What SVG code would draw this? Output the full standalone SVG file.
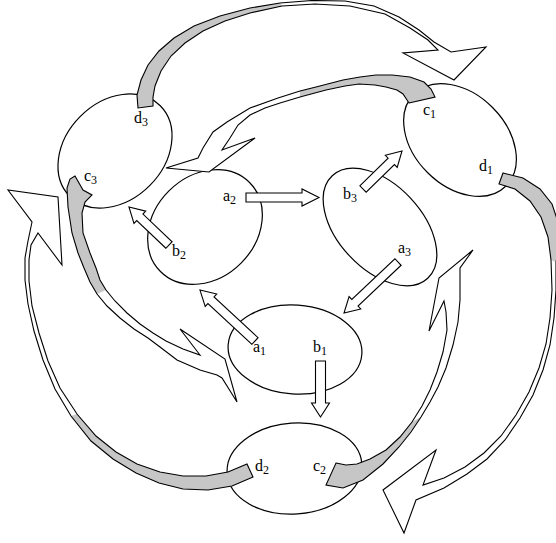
<svg xmlns="http://www.w3.org/2000/svg" xmlns:xlink="http://www.w3.org/1999/xlink" width="556" height="543" viewBox="0 0 556 543">
<style>
.n{fill:none;stroke:#000;stroke-width:1.2}
.w{fill:#fff;stroke:none}
.s{fill:none;stroke:#000;stroke-width:1.1;stroke-linejoin:miter}
.g{fill:#c6c6c6;stroke:none}
.b{fill:#fff;stroke:#000;stroke-width:1.1}
text{font-family:"Liberation Serif","Times New Roman",serif;font-size:16px;fill:#000}
.sub{font-size:12px}
</style>
<defs>
<path id="pA" d="M138,108 L137,95 L141,80 L148,65 L159,51 L174,38 L194,26 L220,16 L250,8 L280,3 L312,0.5 L345,1 L374,6 L399,17 L419,30 L434,42 L451,52 L486,47 L454,80 L403,53 L438,50 L428,40 L410,28 L385,14 L350,6 L315,4 L282,6 L250,13 L225,21 L203,31 L185,43 L171,56 L161,71 L155,86 L153,97 L153,106 Z"/>
<path id="pB" d="M503,173 L523,178 L540,189 L552,204 L558,222 L560,245 L556,262 L556,290 L554,318 L550,345 L543,370 L533,395 L520,418 L505,440 L487,459 L467,474 L444,488 L416,500 L404,533 L383,490 L436,450 L423,485 L444,478 L465,467 L484,453 L501,436 L516,415 L529,392 L539,368 L546,344 L550,318 L552,290 L551,260 L548,237 L541,217 L530,201 L515,189 L499,184 Z"/>
<path id="pC" d="M253,477 L232,486 L208,490 L183,489 L159,483 L136,473 L113,459 L91,441 L71,416 L55,389 L43,360 L34,331 L28,304 L25,280 L25,258 L28,241 L32,222 L8,190 L58,197 L62,265 L38,233 L31,245 L29,260 L29,281 L32,306 L39,333 L48,361 L60,388 L77,414 L96,436 L116,452 L137,464 L160,472 L183,476 L206,476 L228,472 L247,464 Z"/>
<path id="pD" d="M409,103 L435,97 L431,89 L424,82 L410,77 L392,75 L376,75 L360,77 L343,80 L316,87 L300,91 L278,98 L250,108 L227,122 L213,132 L203,148 L198,158 L166,168 L209,172 L255,138 L222,150 L230,138 L238,125 L250,115 L265,108 L280,103 L300,97 L326,90 L345,86 L359,84 L375,85 L386,87 L397,90 L403,94 Z"/>
<path id="pE" d="M67,188 L70,179 L75,176 L83,190 L92,195 L85,202 L82,213 L83,233 L90,253 L96,268 L100,280 L106,290 L115,301 L127,313 L140,324 L153,333 L166,341 L183,349 L200,355 L180,329 L225,359 L237,402 L222,378 L217,375 L200,370 L177,360 L160,347 L148,338 L134,329 L120,318 L107,306 L97,294 L90,282 L84,268 L78,253 L72,233 L68,207 Z"/>
<path id="pF" d="M336,463 L346,465 L357,464 L370,459 L386,450 L400,437 L412,422 L422,406 L430,390 L437,372 L443,352 L447,330 L446,312 L444,301 L429,331 L439,278 L473,250 L460,268 L460,280 L460,300 L458,322 L453,345 L446,368 L438,387 L430,402 L421,417 L411,432 L399,447 L383,464 L363,480 L343,488 L326,485 Z"/>
</defs>
<rect width="556" height="543" fill="#fff"/>
<g id="node-1">
<ellipse class="n" cx="115" cy="151" rx="64" ry="49" transform="rotate(-45 115 151)"/>
<text x="134" y="123">d<tspan class="sub" dy="3">3</tspan></text>
<text x="84" y="181">c<tspan class="sub" dy="3">3</tspan></text>
</g>
<g id="node-2">
<ellipse class="n" cx="205" cy="227" rx="63" ry="51" transform="rotate(-45 205 227)"/>
<text x="223" y="201">a<tspan class="sub" dy="3">2</tspan></text>
<text x="172" y="256">b<tspan class="sub" dy="3">2</tspan></text>
</g>
<g id="node-3">
<ellipse class="n" cx="380" cy="227" rx="70" ry="42" transform="rotate(47 380 227)"/>
<text x="343" y="199">b<tspan class="sub" dy="3">3</tspan></text>
<text x="398" y="253">a<tspan class="sub" dy="3">3</tspan></text>
</g>
<g id="node-4">
<ellipse class="n" cx="460" cy="140" rx="65" ry="46" transform="rotate(45 460 140)"/>
<text x="423" y="115">c<tspan class="sub" dy="3">1</tspan></text>
<text x="479" y="171">d<tspan class="sub" dy="3">1</tspan></text>
</g>
<g id="node-5">
<ellipse class="n" cx="295" cy="349.5" rx="67" ry="44.5" transform="rotate(4 295 349.5)"/>
<text x="253" y="352">a<tspan class="sub" dy="3">1</tspan></text>
<text x="313" y="352">b<tspan class="sub" dy="3">1</tspan></text>
</g>
<g id="node-6">
<ellipse class="n" cx="294.5" cy="468.5" rx="67.5" ry="45.5" transform="rotate(-4 294.5 468.5)"/>
<text x="255" y="471">d<tspan class="sub" dy="3">2</tspan></text>
<text x="313" y="471">c<tspan class="sub" dy="3">2</tspan></text>
</g>
<g id="connectors">
<g id="curve-d3-c1"><use href="#pA" xlink:href="#pA" class="w"/><path class="g" d="M138,108 L137,95 L141,80 L148,65 L159,51 L174,38 L194,26 L220,16 L250,8 L280,3 L282,6 L250,13 L225,21 L203,31 L185,43 L171,56 L161,71 L155,86 L153,97 L153,106 Z"/><use href="#pA" xlink:href="#pA" class="s"/></g>
<g id="curve-d1-c2"><use href="#pB" xlink:href="#pB" class="w"/><path class="g" d="M503,173 L523,178 L540,189 L552,204 L558,222 L560,245 L556,262 L551,260 L548,237 L541,217 L530,201 L515,189 L499,184 Z"/><use href="#pB" xlink:href="#pB" class="s"/></g>
<g id="curve-d2-c3"><use href="#pC" xlink:href="#pC" class="w"/><path class="g" d="M253,477 L232,486 L208,490 L183,489 L159,483 L136,473 L113,459 L91,441 L71,416 L77,414 L96,436 L116,452 L137,464 L160,472 L183,476 L206,476 L228,472 L247,464 Z"/><use href="#pC" xlink:href="#pC" class="s"/></g>
<g id="curve-c1"><use href="#pD" xlink:href="#pD" class="w"/><path class="g" d="M409,103 L435,97 L431,89 L424,82 L410,77 L392,75 L376,75 L360,77 L343,80 L316,87 L300,91 L300,97 L326,90 L345,86 L359,84 L375,85 L386,87 L397,90 L403,94 Z"/><use href="#pD" xlink:href="#pD" class="s"/></g>
<g id="curve-c3"><use href="#pE" xlink:href="#pE" class="w"/><path class="g" d="M67,188 L70,179 L75,176 L83,190 L92,195 L85,202 L82,213 L83,233 L90,253 L96,268 L100,280 L106,290 L97,294 L90,282 L84,268 L78,253 L72,233 L68,207 Z"/><use href="#pE" xlink:href="#pE" class="s"/></g>
<g id="curve-c2"><use href="#pF" xlink:href="#pF" class="w"/><path class="g" d="M336,463 L346,465 L357,464 L370,459 L386,450 L400,437 L412,422 L421,417 L411,432 L399,447 L383,464 L363,480 L343,488 L326,485 Z"/><use href="#pF" xlink:href="#pF" class="s"/></g>
<path id="arrow-a2-b3" class="b" transform="translate(246,197.5)" d="M0,-4.5 H56 V-8.5 L73,0 L56,8.5 V4.5 H0 Z"/>
<path id="arrow-b3" class="b" transform="translate(363,189) rotate(-44.3)" d="M0,-4.5 H39.5 V-8.5 L54.5,0 L39.5,8.5 V4.5 H0 Z"/>
<path id="arrow-a3" class="b" transform="translate(398,262) rotate(136.6)" d="M0,-4.5 H59.3 V-8.5 L74.3,0 L59.3,8.5 V4.5 H0 Z"/>
<path id="arrow-b1" class="b" transform="translate(320.5,361) rotate(90)" d="M0,-5 H42 V-9 L56,0 L42,9 V5 H0 Z"/>
<path id="arrow-a1" class="b" transform="translate(255,341) rotate(-137.2)" d="M0,-4.5 H60 V-8.5 L75,0 L60,8.5 V4.5 H0 Z"/>
<path id="arrow-b2" class="b" transform="translate(169,245) rotate(-136.5)" d="M0,-4.5 H40.2 V-8.5 L55.2,0 L40.2,8.5 V4.5 H0 Z"/>
</g>
</svg>
